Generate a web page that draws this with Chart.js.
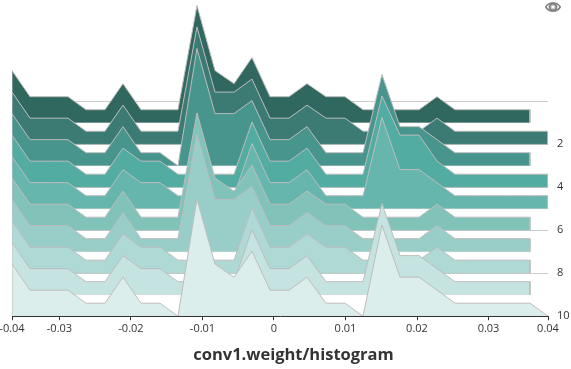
<!DOCTYPE html>
<html>
<head>
<meta charset="utf-8">
<title>conv1.weight/histogram</title>
<script src="https://cdn.jsdelivr.net/npm/chart.js@4"></script>
<style>
  body { margin: 0; background: #fff; }
  #wrap { position: relative; width: 571px; height: 369px; }
  #eye { position: absolute; left: 545px; top: 1px; }
</style>
</head>
<body>
<div id="wrap">
  <canvas id="myChart" width="571" height="369"></canvas>
  <svg id="eye" width="16" height="12" viewBox="0 0 16 12">
    <path d="M0.7 6 C4 0.6 12 0.6 15.3 6 C12 11.4 4 11.4 0.7 6 Z" fill="#fff" stroke="#808080" stroke-width="1.5"/>
    <circle cx="8" cy="6" r="3.5" fill="#c4c4c4" stroke="#808080" stroke-width="1.8"/>
    <circle cx="8" cy="6" r="1.3" fill="#fff"/>
  </svg>
</div>
<script>
/* bin positions of the histogram (weight value) */
const bins = [-0.03664, -0.03412, -0.03146, -0.02881, -0.02629, -0.02364, -0.02112, -0.01860, -0.01594,
  -0.01343, -0.01077, -0.00825, -0.00559, -0.00308, -0.00056, 0.00210, 0.00462, 0.00727, 0.00993, 0.01245,
  0.01510, 0.01762, 0.02028, 0.02280, 0.02531, 0.02797, 0.03049, 0.03315, 0.03580, 0.03832];

/* counts per bin, one list per step */
const step1 = [4, 2, 2, 2, 1, 1, 3, 1, 1, 1, 9, 4, 3, 5, 2, 2, 3, 2, 2, 1, 1, 1, 1, 2, 1, 1, 1, 1, 1];
const step2 = [4, 2, 2, 2, 1, 1, 3, 1, 1, 1, 9, 4, 4, 5, 2, 2, 3, 2, 2, 1, 1, 1, 1, 2, 1, 1, 1, 1, 1, 1];
const step3 = [4, 2, 2, 2, 1, 1, 3, 1, 1, 0, 9, 4, 4, 5, 2, 2, 3, 1, 1, 1, 7, 3, 3, 2, 1, 1, 1, 1, 1];
const step4 = [4, 2, 2, 2, 1, 1, 3, 2, 2, 1, 1, 1, 1, 5, 2, 2, 3, 1, 1, 1, 7, 4, 4, 2, 1, 1, 1, 1, 1, 1];
const step5 = [4, 2, 2, 2, 1, 1, 3, 2, 2, 1, 1, 1, 1, 5, 2, 2, 3, 1, 1, 1, 7, 3, 3, 2, 1, 1, 1, 1, 1, 1];
const step6 = [4, 2, 2, 2, 1, 1, 3, 1, 1, 1, 9, 4, 3, 5, 2, 2, 3, 2, 2, 1, 1, 1, 1, 2, 1, 1, 1, 1, 1];
const step7 = [4, 2, 2, 2, 1, 1, 3, 1, 1, 1, 9, 4, 4, 5, 2, 2, 3, 2, 2, 1, 1, 1, 1, 2, 1, 1, 1, 1, 1];
const step8 = [4, 2, 2, 2, 1, 1, 3, 2, 2, 1, 1, 1, 1, 5, 2, 2, 3, 2, 2, 1, 1, 1, 1, 2, 1, 1, 1, 1, 1];
const step9 = [4, 2, 2, 2, 1, 1, 3, 2, 2, 1, 1, 1, 1, 5, 2, 2, 3, 1, 1, 1, 7, 3, 3, 2, 1, 1, 1, 1, 1];
const step10 = [4, 2, 2, 2, 1, 1, 3, 1, 1, 0, 9, 4, 3, 5, 2, 2, 3, 1, 1, 0, 7, 3, 3, 2, 1, 1, 1, 1, 1, 0];
const allSteps = [step1, step2, step3, step4, step5, step6, step7, step8, step9, step10];

const stepColors = ['#30685f', '#3c7b73', '#47958c', '#52aca1', '#67b6ad', '#81c3b9',
  '#99cec8', '#afd9d4', '#c5e4e1', '#dceeeb'];

/* axis ticks */
const xTicks = [-0.03664, -0.03, -0.02, -0.01, 0, 0.01, 0.02, 0.03, 0.03832];
const xLabels = ['-0.04', '-0.03', '-0.02', '-0.01', '0', '0.01', '0.02', '0.03', '0.04'];
const yTicks = [0, 2, 4, 6, 8, 10];
const yLabels = ['', '2', '4', '6', '8', '10'];

// how many steps of the y axis one count is tall
const countHeight = 0.606;

const datasets = [];
for (let i = 0; i < allSteps.length; i++) {
  const row = i + 1;
  const counts = allSteps[i];
  const lastBin = bins[counts.length - 1];
  const points = [{ x: bins[0], y: row }];
  for (let j = 0; j < counts.length; j++) {
    points.push({ x: bins[j], y: row - counts[j] * countHeight });
  }
  points.push({ x: lastBin, y: row }); // right edge goes back down to the base line

  datasets.push({
    label: 'step ' + row,
    data: points,
    order: (allSteps.length - i) * 2, // later steps are drawn in front
    borderColor: '#bdbdbd',
    borderWidth: 1,
    backgroundColor: stepColors[i],
    pointRadius: 0,
    tension: 0,
    fill: { value: row }
  });
  // faint line along the bottom of the band
  datasets.push({
    label: 'base ' + row,
    data: [{ x: bins[0], y: row }, { x: lastBin, y: row }],
    order: (allSteps.length - i) * 2 - 1,
    borderColor: 'rgba(189,189,189,0.3)',
    borderWidth: 1,
    pointRadius: 0,
    fill: false
  });
}

// the title sits a bit right of the canvas middle
const moveTitle = {
  id: 'moveTitle',
  afterLayout: function (chart) {
    chart.titleBlock.left += 8;
    chart.titleBlock.right += 8;
  }
};

const labelFont = { family: '"Open Sans", "Noto Sans", sans-serif', size: 11 };

new Chart(document.getElementById('myChart').getContext('2d'), {
  type: 'line',
  data: { datasets: datasets },
  plugins: [moveTitle],
  options: {
    responsive: false,
    animation: false,
    layout: { padding: 0 },
    plugins: {
      legend: { display: false },
      tooltip: { enabled: false },
      filler: { drawTime: 'beforeDatasetDraw' },
      title: {
        display: true,
        position: 'bottom',
        text: 'conv1.weight/histogram',
        color: '#333',
        font: { family: '"Open Sans", "Noto Sans", sans-serif', size: 16.5, weight: 'bold' },
        padding: { top: 0, bottom: 4 }
      }
    },
    scales: {
      x: {
        type: 'linear',
        min: xTicks[0],
        max: xTicks[xTicks.length - 1],
        afterBuildTicks: function (scale) {
          scale.ticks = xTicks.map(function (v) { return { value: v }; });
        },
        afterFit: function (scale) {
          scale.height = 29;
          scale.paddingLeft = 12;
          scale.paddingRight = 0;
        },
        grid: { drawOnChartArea: false, tickLength: 4, color: '#333', z: 1 },
        border: { color: '#333', z: 1 },
        ticks: {
          z: 1,
          autoSkip: false,
          maxRotation: 0,
          padding: 2,
          color: '#333',
          font: labelFont,
          callback: function (value, index) { return xLabels[index]; }
        }
      },
      y: {
        type: 'linear',
        position: 'right',
        reverse: true,
        min: -4.709,
        max: 10,
        afterBuildTicks: function (scale) {
          scale.ticks = yTicks.map(function (v) { return { value: v }; });
        },
        afterFit: function (scale) {
          scale.width = 23;
          scale.paddingTop = 0;
          scale.paddingBottom = 0;
        },
        grid: { color: '#ccc', drawTicks: false },
        border: { display: false },
        ticks: {
          autoSkip: false,
          padding: 9,
          color: '#333',
          font: labelFont,
          callback: function (value, index) { return yLabels[index]; }
        }
      }
    }
  }
});
</script>
</body>
</html>
